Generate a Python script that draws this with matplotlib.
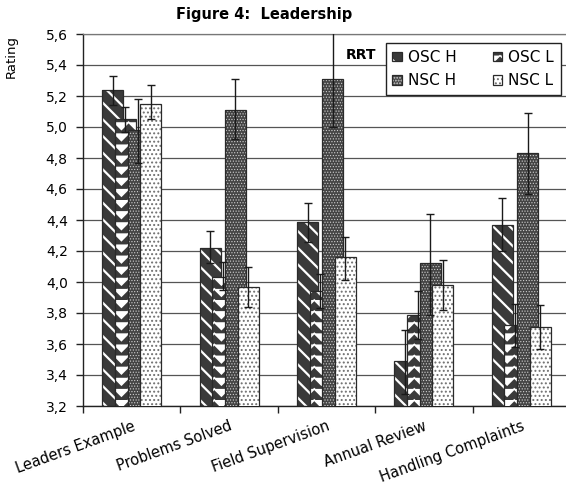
import warnings
import numpy as np
import matplotlib
matplotlib.use('Agg')
import matplotlib.pyplot as plt
import matplotlib.transforms as mtransforms
from matplotlib import hatch as mhatch
from matplotlib.path import Path
from matplotlib.patches import Patch
from matplotlib.legend_handler import HandlerTuple
from matplotlib.ticker import FuncFormatter

warnings.filterwarnings('ignore')

categories = ['Leaders Example', 'Problems Solved', 'Field Supervision',
              'Annual Review', 'Handling Complaints']
series = ['OSC H', 'OSC L', 'NSC H', 'NSC L']

osc_h = [5.24, 4.22, 4.39, 3.49, 4.37]
osc_l = [5.05, 4.03, 3.94, 3.79, 3.72]
nsc_h = [4.98, 5.11, 5.31, 4.12, 4.83]
nsc_l = [5.15, 3.97, 4.16, 3.98, 3.71]

# error bar ends: lower, upper
osc_h_lo = [5.14, 4.12, 4.26, 3.28, 4.20]
osc_h_hi = [5.33, 4.33, 4.51, 3.69, 4.54]
osc_l_lo = [4.97, 3.95, 3.83, 3.63, 3.58]
osc_l_hi = [5.13, 4.13, 4.05, 3.94, 3.86]
nsc_h_lo = [4.77, 4.92, 5.00, 3.79, 4.57]
nsc_h_hi = [5.18, 5.31, 5.62, 4.44, 5.09]
nsc_l_lo = [5.05, 3.84, 4.01, 3.82, 3.57]
nsc_l_hi = [5.27, 4.10, 4.29, 4.14, 3.85]

values = [osc_h, osc_l, nsc_h, nsc_l]
lows = [osc_h_lo, osc_l_lo, nsc_h_lo, nsc_l_lo]
highs = [osc_h_hi, osc_l_hi, nsc_h_hi, nsc_l_hi]


# zig-zag (chevron) fill, like the Excel pattern
class ChevronHatch(mhatch.HatchPatternBase):
    def __init__(self, hatch, density):
        self.num_lines = int(hatch.count('v') * density * 0.75)
        self.teeth = 7
        if self.num_lines:
            self.num_vertices = (self.num_lines + 1) * (2 * self.teeth + 1)
        else:
            self.num_vertices = 0

    def set_vertices_and_codes(self, vertices, codes):
        n, m = self.num_lines, self.teeth
        xs = np.linspace(0, 1, 2 * m + 1)
        dip = np.zeros(2 * m + 1)
        dip[1::2] = -0.5 / m
        k = 2 * m + 1
        for r in range(n + 1):
            vertices[r * k:(r + 1) * k, 0] = xs
            vertices[r * k:(r + 1) * k, 1] = r / n + dip
            codes[r * k] = Path.MOVETO
            codes[r * k + 1:(r + 1) * k] = Path.LINETO


mhatch._hatch_types.append(ChevronHatch)

styles = [
    dict(face='#3a3a3a', hatch='\\\\', hcolor='white', hlw=1.6),
    dict(face='#3a3a3a', hatch='vv', hcolor='white', hlw=1.2),
    dict(face='#444444', hatch='......', hcolor='#d0d0d0', hlw=0.5),
    dict(face='white', hatch='....', hcolor='#707070', hlw=0.9),
]

fig = plt.figure(figsize=(5.66, 4.88), dpi=100)
ax = fig.add_axes([83 / 566, 1 - 406 / 488, 487 / 566, 372 / 488])

x = np.arange(len(categories))
width = 0.215
step = 0.13
handles = []
for i, (vals, st) in enumerate(zip(values, styles)):
    pos = x + (i - 1.5) * step
    plt.rcParams['hatch.linewidth'] = st['hlw']
    bars = ax.bar(pos, vals, width, color=st['face'], edgecolor=st['hcolor'],
                  hatch=st['hatch'], linewidth=0, zorder=2 + 2 * i)
    for b in bars:
        try:
            b.set_hatch_linewidth(st['hlw'])
        except AttributeError:
            pass
    ax.bar(pos, vals, width, fill=False, edgecolor='#2a2a2a', linewidth=0.9,
           zorder=3 + 2 * i)
    v = np.array(vals)
    yerr = [v - np.array(lows[i]), np.array(highs[i]) - v]
    ax.errorbar(pos, v, yerr=yerr, fmt='none', ecolor='#1a1a1a',
                elinewidth=1.0, capsize=3, capthick=1.0, zorder=20)
    h1 = Patch(facecolor=st['face'], edgecolor=st['hcolor'], hatch=st['hatch'],
               linewidth=0)
    try:
        h1.set_hatch_linewidth(st['hlw'])
    except AttributeError:
        pass
    h2 = Patch(fill=False, edgecolor='#2a2a2a', linewidth=0.9)
    handles.append((h1, h2))

ax.set_xlim(-0.5, len(categories) - 0.5)
ax.set_ylim(3.2, 5.6)
ax.set_yticks(np.arange(3.2, 5.61, 0.2))
ax.yaxis.set_major_formatter(FuncFormatter(lambda v, _: f'{v:.1f}'.replace('.', ',')))
ax.yaxis.grid(True, color='#555555', linewidth=0.9)
ax.set_axisbelow(True)

ax.set_xticks(np.arange(-0.5, len(categories)))
ax.set_xticklabels([])
ax.set_xticks(x, minor=True)
ax.set_xticklabels(categories, minor=True, rotation=20, ha='right',
                   rotation_mode='anchor', fontsize=10.5)
shift = mtransforms.ScaledTranslation(-0.06, 0, fig.dpi_scale_trans)
for lab in ax.get_xticklabels(minor=True):
    lab.set_transform(lab.get_transform() + shift)
ax.tick_params(axis='x', which='major', length=5, width=1, color='#222')
ax.tick_params(axis='x', which='minor', length=0, pad=9)
ax.tick_params(axis='y', length=5, width=1, color='#222', labelsize=10, pad=6)

for s in ['left', 'bottom']:
    ax.spines[s].set_color('#222222')
    ax.spines[s].set_linewidth(1.0)
ax.spines['right'].set_visible(False)
ax.spines['top'].set_color('#777777')
ax.spines['top'].set_linewidth(0.9)

order = [0, 2, 1, 3]
leg = fig.legend([handles[i] for i in order], [series[i] for i in order],
                 ncol=2, loc='upper right',
                 bbox_to_anchor=(561 / 566, 1 - 43 / 488),
                 bbox_transform=fig.transFigure, borderaxespad=0,
                 frameon=True, fancybox=False, edgecolor='#222222',
                 framealpha=1,
                 handler_map={tuple: HandlerTuple(ndivide=1, pad=0)},
                 handlelength=0.6, handleheight=0.6, handletextpad=0.4,
                 columnspacing=2.4, borderpad=0.45, labelspacing=0.55,
                 fontsize=11)
leg.get_frame().set_linewidth(1.0)

fig.text(361 / 566, 1 - 55 / 488, 'RRT', ha='center', va='center',
         fontsize=10, fontweight='bold')
fig.text(264 / 566, 1 - 15 / 488, 'Figure 4:  Leadership', ha='center',
         va='center', fontsize=10.5, fontweight='bold')
fig.text(11 / 566, 1 - 57 / 488, 'Rating', rotation=90, ha='center',
         va='center', fontsize=9.5)

fig.savefig('out.png', dpi=100)
